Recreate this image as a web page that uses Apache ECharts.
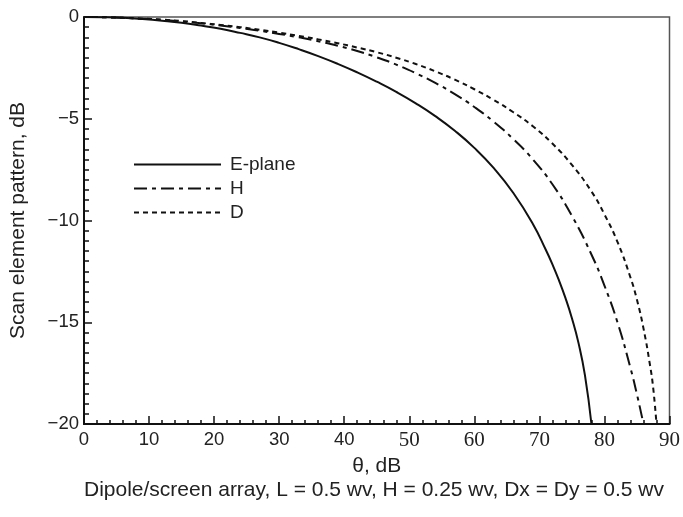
<!DOCTYPE html>
<html>
<head>
<meta charset="utf-8">
<script src="https://cdn.jsdelivr.net/npm/echarts@6/dist/echarts.min.js"></script>
<style>html,body{margin:0;padding:0;background:#fff}#c{width:683px;height:517px}</style>
</head>
<body>
<div id="c"></div>
<script>
// Data
var seriesNames = ['E-plane', 'H', 'D'];
var thetaE = [0, 3, 6, 9, 12, 15, 18, 21, 24, 27, 30, 33, 36, 39, 42, 45, 48, 51, 54, 57, 60, 63, 66, 69, 71, 72, 73, 74, 75, 76, 77, 78];
var valE   = [0, -0.01, -0.04, -0.1, -0.18, -0.28, -0.42, -0.58, -0.78, -1.0, -1.27, -1.58, -1.92, -2.3, -2.72, -3.18, -3.68, -4.24, -4.87, -5.59, -6.43, -7.43, -8.65, -10.17, -11.45, -12.15, -12.93, -13.8, -14.8, -16.0, -17.6, -20];
var thetaH = [0, 3, 6, 9, 12, 15, 18, 21, 24, 27, 30, 33, 36, 39, 42, 45, 48, 51, 54, 57, 60, 63, 66, 69, 72, 75, 78, 80, 82, 84, 85, 86];
var valH   = [0, -0.01, -0.04, -0.08, -0.14, -0.22, -0.31, -0.42, -0.54, -0.68, -0.83, -1.0, -1.19, -1.41, -1.67, -1.98, -2.34, -2.76, -3.24, -3.79, -4.42, -5.15, -6.0, -7.0, -8.22, -9.77, -11.67, -13.2, -15.0, -17.25, -18.55, -20];
var thetaD = [0, 3, 6, 9, 12, 15, 18, 21, 24, 27, 30, 33, 36, 39, 42, 45, 48, 51, 54, 57, 60, 63, 66, 69, 72, 75, 78, 80, 82, 84, 85, 86, 87, 87.5, 88];
var valD   = [0, -0.01, -0.04, -0.08, -0.13, -0.2, -0.29, -0.39, -0.5, -0.63, -0.77, -0.93, -1.1, -1.29, -1.5, -1.73, -2.0, -2.31, -2.67, -3.08, -3.55, -4.08, -4.68, -5.37, -6.22, -7.27, -8.57, -9.7, -11.05, -12.8, -13.9, -15.3, -17.1, -18.25, -20];
var xTicks = [0, 10, 20, 30, 40, 50, 60, 70, 80, 90];
var yTicks = [0, -5, -10, -15, -20];
var xName = 'θ, dB';
var yName = 'Scan element pattern, dB';
var caption = 'Dipole/screen array, L = 0.5 wv, H = 0.25 wv, Dx = Dy = 0.5 wv';

function pairs(xs, ys) { return xs.map(function (x, i) { return [x, ys[i]]; }); }

var sans = 'Liberation Sans, Arial, sans-serif';
var serif = 'Liberation Serif, Times New Roman, serif';

var chart = echarts.init(document.getElementById('c'), null, {renderer: 'canvas'});
chart.setOption({
  animation: false,
  backgroundColor: '#fff',
  grid: {left: 83, right: 11, top: 17, bottom: 93, show: true, borderColor: '#555', borderWidth: 1.5, containLabel: false},
  title: {
    text: caption, left: 374, top: 480, textAlign: 'center', padding: 0,
    textStyle: {fontFamily: sans, fontSize: 21, fontWeight: 'normal', color: '#222'}
  },
  legend: {
    orient: 'vertical', left: 133, top: 155, itemWidth: 87, itemHeight: 14, itemGap: 5, padding: 0,
    data: seriesNames,
    itemStyle: {opacity: 0, borderWidth: 0},
    textStyle: {fontFamily: sans, fontSize: 19, lineHeight: 19, color: '#222', padding: [0, 0, 0, 4]}
  },
  xAxis: {
    type: 'value', min: xTicks[0], max: xTicks[xTicks.length - 1], interval: 10,
    name: xName, nameLocation: 'middle', nameGap: 31,
    nameTextStyle: {fontFamily: sans, fontSize: 21, color: '#222'},
    axisLine: {onZero: false, lineStyle: {color: '#111', width: 2}},
    axisTick: {inside: true, length: 8, lineStyle: {color: '#111', width: 1.5}},
    minorTick: {show: true, splitNumber: 5, length: 4, lineStyle: {color: '#111', width: 1.5}},
    splitLine: {show: false},
    axisLabel: {
      margin: 6, color: '#222',
      formatter: function (v) { return xTicks.indexOf(v) < 5 ? '{s|' + v + '}' : '{t|' + v + '}'; },
      rich: {s: {fontFamily: sans, fontSize: 18.5, color: '#222'}, t: {fontFamily: serif, fontSize: 21, color: '#222'}}
    }
  },
  yAxis: {
    type: 'value', min: yTicks[yTicks.length - 1], max: yTicks[0], interval: 5,
    name: yName, nameLocation: 'middle', nameGap: 55, nameRotate: 90,
    nameTextStyle: {fontFamily: sans, fontSize: 21, color: '#222'},
    axisLine: {onZero: false, lineStyle: {color: '#111', width: 2}},
    axisTick: {inside: true, length: 8, lineStyle: {color: '#111', width: 1.5}},
    minorTick: {show: true, splitNumber: 10, length: 5, lineStyle: {color: '#111', width: 1.5}},
    splitLine: {show: false},
    axisLabel: {
      margin: 5, fontFamily: sans, fontSize: 18.5, color: '#222',
      formatter: function (v) { return v === 0 ? '0' : '\u2212' + Math.abs(v); }
    }
  },
  series: [
    {name: seriesNames[0], type: 'line', data: pairs(thetaE, valE), smooth: 0.5, symbol: 'none',
     lineStyle: {color: '#111', width: 2, type: 'solid'}, itemStyle: {color: '#111'}},
    {name: seriesNames[1], type: 'line', data: pairs(thetaH, valH), smooth: 0.5, symbol: 'none',
     lineStyle: {color: '#111', width: 2, type: [13, 5, 4, 5]}, itemStyle: {color: '#111'}},
    {name: seriesNames[2], type: 'line', data: pairs(thetaD, valD), smooth: 0.5, symbol: 'none',
     lineStyle: {color: '#111', width: 2, type: [5, 4]}, itemStyle: {color: '#111'}}
  ]
});
</script>
</body>
</html>
